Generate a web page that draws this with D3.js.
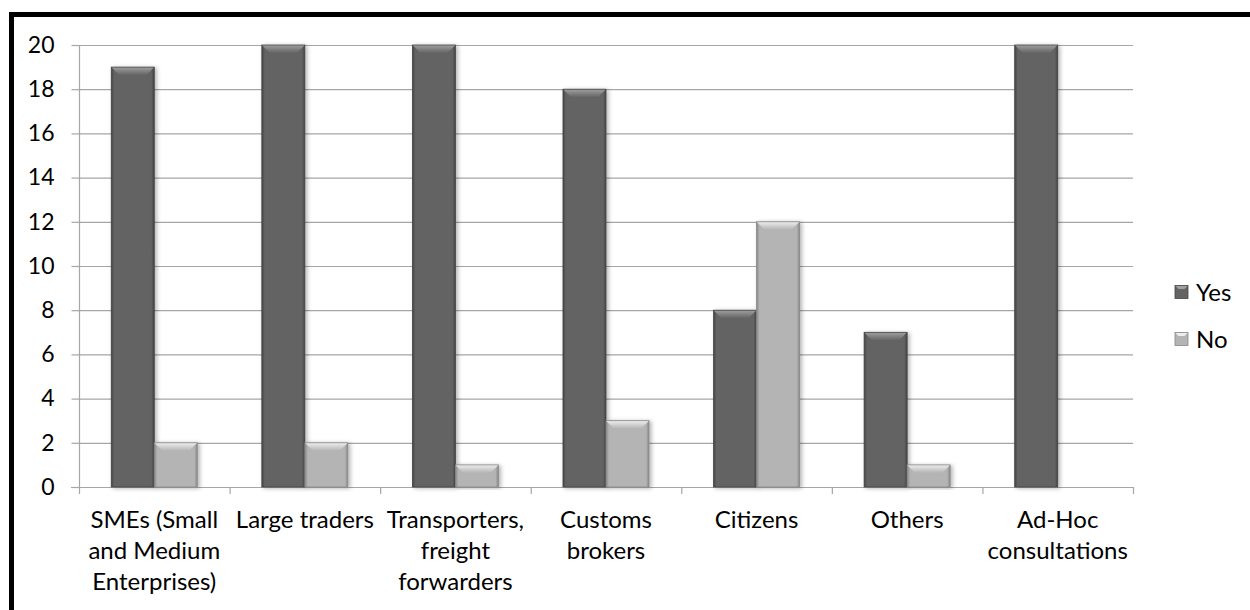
<!DOCTYPE html>
<html>
<head>
<meta charset="utf-8">
<script src="https://cdn.jsdelivr.net/npm/d3@7"></script>
<style>
  html, body { margin: 0; padding: 0; background: #fff; }
  svg { display: block; }
  text { font-family: Lato, "Open Sans", sans-serif; fill: #000; }
</style>
</head>
<body>
<svg id="chart" width="1250" height="610"></svg>
<script>
const categories = [
  "SMEs (Small\nand Medium\nEnterprises)",
  "Large traders",
  "Transporters,\nfreight\nforwarders",
  "Customs\nbrokers",
  "Citizens",
  "Others",
  "Ad-Hoc\nconsultations"
];
const seriesNames = ["Yes", "No"];
const yesValues = [19, 20, 20, 18, 8, 7, 20];
const noValues  = [2, 2, 1, 3, 12, 1, 0];
const yTicks = [0, 2, 4, 6, 8, 10, 12, 14, 16, 18, 20];

(function () {
const seriesValues = { "Yes": yesValues, "No": noValues };
const palette = {
  "Yes": { base: "#646464", light: "#a0a0a0", edge: "#444444" },
  "No":  { base: "#b4b4b4", light: "#eeeeee", edge: "#888888" }
};

const svg = d3.select("#chart");
const pLeft = 79, pRight = 1133, pTop = 45, pBottom = 487;

const x = d3.scaleBand().domain(categories).range([pLeft, pRight]).paddingInner(0).paddingOuter(0);
const x1 = d3.scaleBand().domain(seriesNames).range([0, x.bandwidth()]).paddingInner(0).paddingOuter(0.75);
const y = d3.scaleLinear().domain([0, 20]).range([pBottom, pTop]);

const defs = svg.append("defs");
const f = defs.append("filter").attr("id", "shadow").attr("x", "-30%").attr("y", "-10%").attr("width", "160%").attr("height", "120%");
f.append("feDropShadow").attr("dx", 2).attr("dy", 1).attr("stdDeviation", 2).attr("flood-color", "#000").attr("flood-opacity", 0.3);

seriesNames.forEach(s => {
  const p = palette[s];
  const g = defs.append("linearGradient").attr("id", "top-" + s).attr("x1", 0).attr("y1", 0).attr("x2", 0).attr("y2", 1);
  g.append("stop").attr("offset", "0%").attr("stop-color", p.light);
  g.append("stop").attr("offset", "100%").attr("stop-color", p.base);
  const h = defs.append("linearGradient").attr("id", "body-" + s).attr("x1", 0).attr("y1", 0).attr("x2", 1).attr("y2", 0);
  h.append("stop").attr("offset", "0%").attr("stop-color", p.edge);
  h.append("stop").attr("offset", "7%").attr("stop-color", p.base);
  h.append("stop").attr("offset", "93%").attr("stop-color", p.base);
  h.append("stop").attr("offset", "100%").attr("stop-color", p.edge);
});

// gridlines
svg.append("g")
  .selectAll("line").data(yTicks.filter(t => t !== 0)).join("line")
  .attr("x1", pLeft).attr("x2", pRight)
  .attr("y1", d => y(d) + 0.5).attr("y2", d => y(d) + 0.5)
  .attr("stroke", "#a6a6a6").attr("stroke-width", 1.2);

// y axis
const yAxis = svg.append("g").attr("transform", `translate(${pLeft + 0.5},0)`)
  .call(d3.axisLeft(y).tickValues(yTicks).tickSize(8).tickPadding(17).tickFormat(d3.format("d")));
yAxis.selectAll("path, line").attr("stroke", "#a6a6a6").attr("stroke-width", 1.2);
yAxis.select(".domain").attr("d", `M0,${pTop}V${pBottom + 7}`);
yAxis.selectAll("text").attr("font-size", 23).attr("font-family", "Lato, sans-serif").attr("fill", "#000");

// x axis line + boundary ticks
const boundaries = categories.map(c => x(c) + x.bandwidth());
svg.append("line").attr("x1", pLeft - 8).attr("x2", pRight).attr("y1", pBottom + 0.5).attr("y2", pBottom + 0.5)
  .attr("stroke", "#a6a6a6").attr("stroke-width", 1.2);
svg.append("g").selectAll("line").data(boundaries).join("line")
  .attr("x1", d => d + 0.5).attr("x2", d => d + 0.5)
  .attr("y1", pBottom).attr("y2", pBottom + 7)
  .attr("stroke", "#a6a6a6").attr("stroke-width", 1.2);

// bars
const bevel = 8;
const groups = svg.append("g").selectAll("g").data(categories).join("g")
  .attr("transform", d => `translate(${x(d)},0)`);

seriesNames.forEach(s => {
  const bw = x1.bandwidth();
  const bars = groups.filter((d, i) => seriesValues[s][i] > 0).append("g").attr("filter", "url(#shadow)");
  bars.each(function(d) {
    const i = categories.indexOf(d);
    const v = seriesValues[s][i];
    const x0 = x1(s), y0 = y(v), h = y(0) - y(v);
    const gg = d3.select(this);
    gg.append("rect").attr("x", x0).attr("y", y0).attr("width", bw).attr("height", h)
      .attr("fill", `url(#body-${s})`);
    const b = Math.min(bevel, h);
    gg.append("path")
      .attr("d", `M${x0},${y0}H${x0 + bw}L${x0 + bw - b},${y0 + b}H${x0 + b}Z`)
      .attr("fill", `url(#top-${s})`);
    gg.append("rect").attr("x", x0).attr("y", y0).attr("width", bw).attr("height", h)
      .attr("fill", "none").attr("stroke", palette[s].edge).attr("stroke-width", 0.8);
  });
});

// category labels
const labels = svg.append("g").selectAll("text").data(categories).join("text")
  .attr("text-anchor", "middle").attr("font-size", 24)
  .attr("x", d => x(d) + x.bandwidth() / 2)
  .attr("y", pBottom + 41);
labels.each(function(d) {
  const t = d3.select(this);
  d.split("\n").forEach((line, i) => {
    t.append("tspan").attr("x", x(d) + x.bandwidth() / 2).attr("dy", i === 0 ? 0 : 31).text(line);
  });
});

// legend
const legend = svg.append("g").selectAll("g").data(seriesNames).join("g")
  .attr("transform", (d, i) => `translate(1175,${292 + i * 47})`);
legend.append("rect").attr("x", 0).attr("y", -6.5).attr("width", 13).attr("height", 13)
  .attr("fill", d => palette[d].base).attr("stroke", d => palette[d].edge).attr("stroke-width", 0.8);
legend.append("path").attr("d", "M0.5,-6H12.5L9.5,-3H3.5Z").attr("fill", d => palette[d].light);
legend.append("text").attr("x", 21).attr("y", 8.5).attr("font-size", 24).text(d => d);

// frame
svg.append("path").attr("d", "M11.5,610V14.5H1250").attr("fill", "none").attr("stroke", "#000").attr("stroke-width", 5);
})();
</script>
</body>
</html>
